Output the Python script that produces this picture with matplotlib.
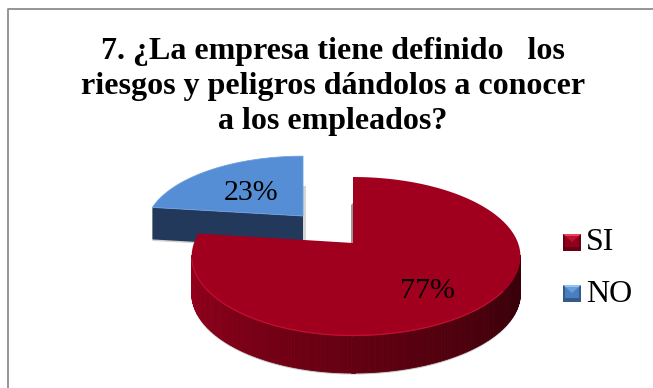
import numpy as np
import matplotlib
matplotlib.use('Agg')
import matplotlib.pyplot as plt
from matplotlib.patches import Polygon, Rectangle

# Datos de la encuesta
categorias = ['SI', 'NO']
porcentajes = [77, 23]
titulo = '7. ¿La empresa tiene definido   los\nriesgos y peligros dándolos a conocer\na los empleados?'

rojo_top = '#a0001e'
azul_top = '#558ed5'
azul_lado = '#23395b'

plt.rcParams['font.family'] = ['Liberation Serif', 'DejaVu Serif']

fig = plt.figure(figsize=(6.53, 3.88), dpi=100)
ax = fig.add_axes([0, 0, 1, 1])
ax.set_xlim(0, 653)
ax.set_ylim(388, 0)
ax.axis('off')


# Proyeccion en perspectiva de un punto del disco (theta en grados, horario desde arriba)
def proyectar(theta, cx, cy, a_der=165.0, a_izq=159.0, b=77.2, k=0.17):
    t = np.radians(theta)
    d = 1 + k * np.cos(t)
    s = np.sin(t)
    return cx + np.where(s > 0, a_der, a_izq) * s / d, cy - b * np.cos(t) / d


def borde(ini, fin, cx, cy, **kw):
    th = np.linspace(ini, fin, 200)
    x, y = proyectar(th, cx, cy, **kw)
    return np.column_stack([x, y])


def mezcla(c1, c2, f):
    c1 = np.array(matplotlib.colors.to_rgb(c1))
    c2 = np.array(matplotlib.colors.to_rgb(c2))
    return tuple(c1 + (c2 - c1) * f)


fin_si = 360 * porcentajes[0] / sum(porcentajes)

# Marco del grafico
ax.plot([7.5, 7.5, 653], [388, 8.5, 8.5], color='#8c8c8c', lw=1.3, solid_capstyle='butt')

ax.text(333, 86.5, titulo, ha='center', va='center', fontsize=23, fontweight='bold',
        linespacing=1.27, color='black')

# Porcion NO, separada hacia atras
cx2, cy2, prof2 = 303, 216, 32
forma2 = dict(a_der=155.0, a_izq=155.0, b=70.0)
arco = borde(fin_si, 360, cx2, cy2, **forma2)
ax.add_patch(Polygon([(cx2, cy2 + prof2), (cx2 + 3, cy2 + prof2), (cx2 + 3, cy2 - 30), (cx2, cy2 - 30)],
                     fc='#d6d6d6', ec='none', zorder=1))
lado = np.array([arco[0], (cx2, cy2), (cx2, cy2 + prof2), (arco[0][0], arco[0][1] + prof2)])
ax.add_patch(Polygon(lado + [0, 1.5], fc='#d0d0d0', ec='none', zorder=1))
ax.add_patch(Polygon(lado, fc=azul_lado, ec='none', zorder=2))
ax.add_patch(Polygon(np.vstack([[(cx2, cy2)], arco]), fc=azul_top, ec='#6f9fdc', lw=0.6, zorder=3))

# Porcion SI
cx1, cy1, prof1 = 353, 243, 37
arco = borde(0, fin_si, cx1, cy1)
th = np.linspace(99, 261, 160)
x, y = proyectar(th, cx1, cy1)
# sombra bajo el canto
ax.add_patch(Polygon(np.vstack([np.column_stack([x, y + prof1 + 1.5]),
                                np.column_stack([x, y])[::-1]]), fc='#c6c6c6', ec='none', zorder=4))
# canto con degradado de oscuro a claro
for i in range(len(th) - 1):
    f = np.clip((th[i] - 115) / 140, 0, 1)
    c = mezcla('#3a0009', '#94001c', f)
    ax.add_patch(Polygon([(x[i], y[i]), (x[i + 1], y[i + 1]), (x[i + 1], y[i + 1] + prof1), (x[i], y[i] + prof1)],
                         fc=c, ec=c, lw=0.6, zorder=5))
ax.add_patch(Polygon([(cx1, cy1), (cx1, cy1 - 40), (cx1 - 2, cy1 - 38), (cx1 - 2, cy1)],
                     fc='#555555', ec='none', zorder=5, alpha=0.6))
ax.add_patch(Polygon(np.vstack([[(cx1, cy1)], arco]), fc=rojo_top, ec='none', zorder=6))
# brillo del borde frontal
ax.plot(*borde(125, 258, cx1, cy1 - 0.6).T, color='#c4102f', lw=0.8, zorder=7)

# Etiquetas de porcentaje
ax.text(251, 193, f'{porcentajes[1]}%', ha='center', va='center', fontsize=21.5, color='black', zorder=8)
ax.text(427, 291, f'{porcentajes[0]}%', ha='center', va='center', fontsize=21.5, color='black', zorder=8)

# Leyenda
colores_ley = [('#a0001e', '#f0405c', '#6a0014'), ('#558ed5', '#8fc4f4', '#34598c')]
for cat, ys, (med, claro, osc) in zip(categorias, [234, 285], colores_ley):
    ax.add_patch(Rectangle((563, ys), 18, 17, fc=osc, ec='none', zorder=8))
    ax.add_patch(Polygon([(563, ys), (581, ys), (572, ys + 8)], fc=claro, ec='none', zorder=9))
    ax.add_patch(Polygon([(565, ys + 2), (579, ys + 2), (579, ys + 13), (565, ys + 13)], fc=med, ec='none', alpha=0.7, zorder=9))
    ax.text(586, ys + 9, cat, ha='left', va='center', fontsize=23, color='black', zorder=9)

fig.savefig('out.png', dpi=100)
